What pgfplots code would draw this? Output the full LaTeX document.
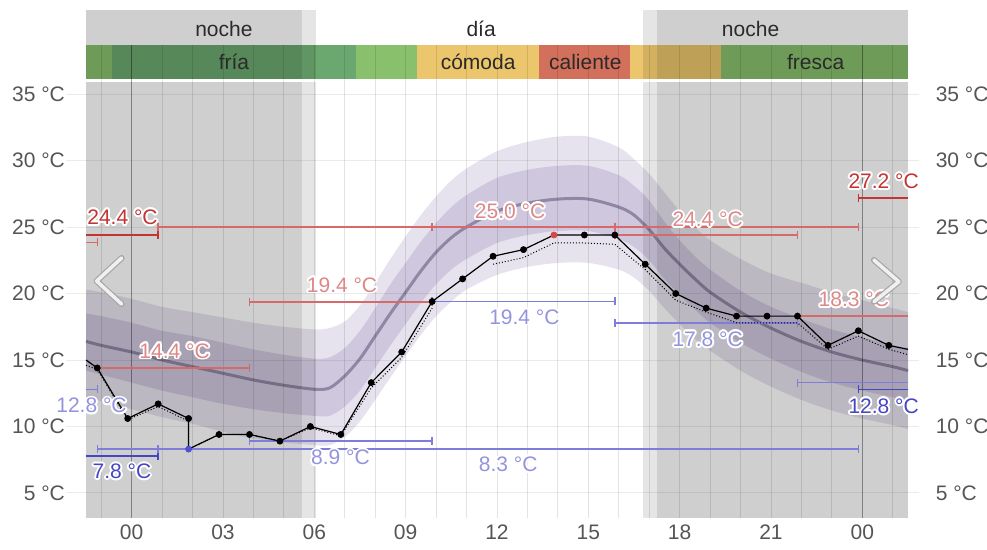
\documentclass[border=0pt]{standalone}
\usepackage{fontspec}
\setmainfont{Liberation Sans}
\usepackage{pgfplots}
\usepackage{pgfplotstable}
\pgfplotsset{compat=1.18}
\usepgfplotslibrary{fillbetween}
\usepackage[copies]{contour}
\contourlength{0.9pt}
\contournumber{16}

\definecolor{gA}{HTML}{88C06C}
\definecolor{gB}{HTML}{6AA870}
\definecolor{yC}{HTML}{ECC66C}
\definecolor{rH}{HTML}{D2705C}
\definecolor{lredl}{HTML}{D46A6A}
\definecolor{lredt}{HTML}{DE8888}
\definecolor{dred}{HTML}{C33434}
\definecolor{lbluel}{HTML}{7E7EDA}
\definecolor{lbluet}{HTML}{9494DE}
\definecolor{dblue}{HTML}{4646C4}
\definecolor{clim}{RGB}{120,100,160}
\definecolor{meanc}{HTML}{8F87A3}
\definecolor{tickgray}{HTML}{555555}
\definecolor{hdr}{HTML}{2A2A2A}
\tikzset{txt/.style={font=\fontsize{10.5}{12}\selectfont}}

\pgfplotstableread{
h     mean  ou    iu    il    ol
-1.5  16.4  20.3  18.5  14.2  12.2
-1    16.1  20.1  18.3  13.9  11.9
0     15.6  19.6  17.8  13.3  11.3
1     15.0  19.0  17.2  12.7  10.7
2     14.5  18.6  16.8  12.2  10.2
3     14.0  18.2  16.3  11.7  9.6
4     13.5  17.8  15.8  11.3  9.1
5     13.1  17.5  15.4  11.0  8.8
6     12.8  17.3  15.1  10.8  8.6
6.5   12.9  17.4  15.2  10.8  8.6
7     13.8  17.9  15.9  11.5  9.2
7.5   15.1  19.1  17.2  12.7  10.4
8     16.8  20.8  18.9  14.4  12.0
8.5   18.5  22.6  20.7  16.1  13.7
9     20.1  24.3  22.3  17.7  15.3
9.5   21.7  25.9  23.9  19.3  16.9
10    23.1  27.3  25.3  20.7  18.3
10.5  24.2  28.5  26.5  21.8  19.4
11    25.0  29.4  27.4  22.6  20.3
12    26.2  30.7  28.7  23.8  21.4
13    26.8  31.4  29.3  24.4  22.0
14    27.1  31.8  29.6  24.7  22.3
15    27.1  31.8  29.6  24.7  22.3
16    26.5  31.0  28.9  24.1  21.8
16.5  25.9  30.1  28.1  23.5  21.2
17    24.8  29.0  27.0  22.5  20.2
17.5  23.4  27.6  25.4  21.1  18.9
18    22.2  26.2  24.0  19.9  17.7
18.5  21.1  25.0  22.8  18.8  16.6
19    20.1  24.0  21.8  17.8  15.7
20    18.6  22.6  20.2  16.3  14.2
21    17.4  21.5  19.0  15.1  13.0
22    16.4  20.8  18.1  14.1  12.0
23    15.6  20.1  17.3  13.3  11.2
24    15.0  19.5  16.7  12.7  10.6
25    14.5  18.9  16.1  12.2  10.1
25.5  14.2  18.6  15.9  11.9  9.8
}\climtab

\pgfplotstableread{
h      t
-1.5   15.0
-1.13  14.4
-0.13  10.6
0.87   11.7
1.87   10.6
1.87   8.3
2.87   9.4
3.87   9.4
4.87   8.9
5.87   10.0
6.87   9.4
7.87   13.3
8.87   15.6
9.87   19.4
10.87  21.1
11.87  22.8
12.87  23.3
13.87  24.4
14.87  24.4
15.87  24.4
16.87  22.2
17.87  20.0
18.87  18.9
19.87  18.3
20.87  18.3
21.87  18.3
22.87  16.1
23.87  17.2
24.87  16.1
25.5   15.8
}\obstab

\pgfplotstableread{
h      t
-1.5   14.6
-1.13  14.3
-0.13  10.5
0.87   11.5
1.87   10.4
1.87   8.3
2.87   9.4
3.87   9.4
4.87   8.9
5.87   9.9
6.87   9.3
7.87   12.9
8.87   15.2
9.87   18.9
10.87  nan
11.87  22.2
12.87  22.7
13.87  23.8
14.87  23.8
15.87  23.7
16.87  21.8
17.87  19.5
18.87  18.6
19.87  17.8
20.87  17.8
21.87  17.8
22.87  15.8
23.87  16.8
24.87  15.8
25.5   15.4
}\dottab

\begin{document}
\begin{tikzpicture}
\begin{axis}[
  at={(43pt,16pt)}, anchor=south west, scale only axis,
  width=411pt, height=254pt,
  xmin=-1.5, xmax=25.5, ymin=3.12, ymax=41.32,
  clip=false,
  axis line style={draw=none}, tick style={draw=none},
  xtick={0,3,...,24}, xticklabels={00,03,06,09,12,15,18,21,00},
  ytick={5,10,...,35},
  yticklabel={\pgfmathprintnumber{\tick}~°C},
  /pgf/number format/assume math mode=true,
  ticklabel style={font=\fontsize{10.5}{12}\selectfont, text=tickgray},
  yticklabel style={xshift=-7pt},
  rl/.style={line width=0.75pt, mark=|, mark size=2pt, mark options={solid, line width=0.75pt}},
]
% colour band
\fill[gA] (-1.5,36.1) rectangle (-0.63,38.68);
\fill[gB] (-0.63,36.1) rectangle (7.37,38.68);
\fill[gA] (7.37,36.1) rectangle (9.37,38.68);
\fill[yC] (9.37,36.1) rectangle (13.37,38.68);
\fill[rH] (13.37,36.1) rectangle (16.37,38.68);
\fill[yC] (16.37,36.1) rectangle (19.37,38.68);
\fill[gA] (19.37,36.1) rectangle (25.5,38.68);

% climate bands
\addplot[name path=ou, draw=none, smooth] table[x=h,y=ou]{\climtab};
\addplot[name path=ol, draw=none, smooth] table[x=h,y=ol]{\climtab};
\addplot[name path=iu, draw=none, smooth] table[x=h,y=iu]{\climtab};
\addplot[name path=il, draw=none, smooth] table[x=h,y=il]{\climtab};
\addplot[fill=clim, fill opacity=0.18, draw=none] fill between[of=ou and ol];
\addplot[fill=clim, fill opacity=0.22, draw=none] fill between[of=iu and il];
\addplot[meanc, line width=1.5pt, smooth] table[x=h,y=mean]{\climtab};

% night overlays
\fill[black, opacity=0.19] (-1.5,36.1) rectangle (5.6,41.32);
\fill[black, opacity=0.10] (5.6,36.1) rectangle (6.05,41.32);
\fill[black, opacity=0.19] (-1.5,3.12) rectangle (5.6,35.9);
\fill[black, opacity=0.10] (5.6,3.12) rectangle (6.05,35.9);
\fill[black, opacity=0.10] (16.78,36.1) rectangle (17.24,41.32);
\fill[black, opacity=0.19] (17.24,36.1) rectangle (25.5,41.32);
\fill[black, opacity=0.10] (16.78,3.12) rectangle (17.24,35.9);
\fill[black, opacity=0.19] (17.24,3.12) rectangle (25.5,35.9);

% grid
\pgfplotsinvokeforeach{-1,1,2,...,23,25}{\draw[black, opacity=0.11, line width=0.5pt] (#1,3.12) -- (#1,38.68);}
\pgfplotsinvokeforeach{0,24}{\draw[black, opacity=0.38, line width=0.5pt] (#1,3.12) -- (#1,38.68);}
\pgfplotsinvokeforeach{5,10,...,35}{\draw[black, opacity=0.08, line width=0.5pt] (-2.15,#1) -- (25.85,#1);}

% max / min range lines
\addplot[color=lredl, rl, mark indices={2}] coordinates {(-1.5,23.85) (-1.13,23.85)};
\addplot[color=dred, rl, mark indices={2}] coordinates {(-1.5,24.4) (0.87,24.4)};
\addplot[color=lredl, rl] coordinates {(0.87,25.0) (23.87,25.0)};
\addplot[color=lredl, rl] coordinates {(9.87,25.0) (15.87,25.0)};
\addplot[color=lredl, rl] coordinates {(-1.13,14.4) (3.87,14.4)};
\addplot[color=lredl, rl] coordinates {(3.87,19.36) (9.87,19.36)};
\addplot[color=lredl, rl] coordinates {(15.87,24.4) (21.87,24.4)};
\addplot[color=lredl, rl, mark indices={1}] coordinates {(21.87,18.3) (25.5,18.3)};
\addplot[color=dred, rl, mark indices={1}] coordinates {(23.87,27.2) (25.5,27.2)};
\addplot[color=dblue, rl, mark indices={2}] coordinates {(-1.5,7.8) (0.87,7.8)};
\addplot[color=lbluel, rl, mark indices={2}] coordinates {(-1.5,12.8) (-1.13,12.8)};
\addplot[color=lbluel, rl] coordinates {(-1.13,8.3) (0.87,8.3)};
\addplot[color=lbluel, rl] coordinates {(0.87,8.3) (23.87,8.3)};
\addplot[color=lbluel, rl] coordinates {(3.87,8.9) (9.87,8.9)};
\addplot[color=lbluel, rl] coordinates {(9.87,19.4) (15.87,19.4)};
\addplot[color=lbluel, rl] coordinates {(15.87,17.8) (21.87,17.8)};
\addplot[color=lbluel, rl, mark indices={1}] coordinates {(21.87,13.3) (25.5,13.3)};
\addplot[color=dblue, rl, mark indices={1}] coordinates {(23.87,12.8) (25.5,12.8)};

% observations
\addplot[black, densely dotted, line width=0.5pt, unbounded coords=jump] table[x=h,y=t]{\dottab};
\addplot[black, line width=0.6pt] table[x=h,y=t]{\obstab};
\addplot[only marks, mark=*, mark size=1.5pt, black] coordinates {
(-1.13,14.4) (-0.13,10.6) (0.87,11.7) (1.87,10.6) (2.87,9.4) (3.87,9.4) (4.87,8.9)
(5.87,10.0) (6.87,9.4) (7.87,13.3) (8.87,15.6) (9.87,19.4) (10.87,21.1) (11.87,22.8)
(12.87,23.3) (14.87,24.4) (15.87,24.4) (16.87,22.2) (17.87,20.0) (18.87,18.9)
(19.87,18.3) (20.87,18.3) (21.87,18.3) (22.87,16.1) (23.87,17.2) (24.87,16.1)};
\addplot[only marks, mark=*, mark size=1.5pt, color={rgb,255:red,214;green,72;blue,72}] coordinates {(13.87,24.4)};
\addplot[only marks, mark=*, mark size=1.5pt, color={rgb,255:red,80;green,80;blue,210}] coordinates {(1.87,8.3)};

% value labels
\node[txt, text=dred]   at (-0.30,25.66) {\contour{white}{24.4 °C}};
\node[txt, text=lredt]  at (1.41,15.62) {\contour{white}{14.4 °C}};
\node[txt, text=lredt]  at (6.91,20.58) {\contour{white}{19.4 °C}};
\node[txt, text=lredt]  at (12.43,26.12) {\contour{white}{25.0 °C}};
\node[txt, text=lredt]  at (18.92,25.50) {\contour{white}{24.4 °C}};
\node[txt, text=lredt]  at (23.72,19.51) {\contour{white}{18.3 °C}};
\node[txt, text=dred]   at (24.70,28.37) {\contour{white}{27.2 °C}};
\node[txt, text=lbluet] at (-1.32,11.50) {\contour{white}{12.8 °C}};
\node[txt, text=dblue]  at (-0.32,6.55) {\contour{white}{7.8 °C}};
\node[txt, text=lbluet] at (6.86,7.60) {\contour{white}{8.9 °C}};
\node[txt, text=lbluet] at (12.37,7.09) {\contour{white}{8.3 °C}};
\node[txt, text=lbluet] at (12.90,18.16) {\contour{white}{19.4 °C}};
\node[txt, text=lbluet] at (18.92,16.50) {\contour{white}{17.8 °C}};
\node[txt, text=dblue]  at (24.70,11.46) {\contour{white}{12.8 °C}};

% navigation chevrons
\draw[line width=3pt, black!35, line cap=round, line join=round] (-0.33,22.67) -- (-1.15,20.94) -- (-0.33,19.21);
\draw[line width=1.8pt, black!6, line cap=round, line join=round] (-0.33,22.67) -- (-1.15,20.94) -- (-0.33,19.21);
\draw[line width=3pt, black!35, line cap=round, line join=round] (24.38,22.52) -- (25.2,20.89) -- (24.38,19.38);
\draw[line width=1.8pt, black!6, line cap=round, line join=round] (24.38,22.52) -- (25.2,20.89) -- (24.38,19.38);

% right tick labels
\pgfplotsinvokeforeach{5,10,...,35}{\node[anchor=west, font=\fontsize{10.5}{12}\selectfont, text=tickgray] at (26.18,#1) {#1 °C};}

% header and band texts
\node[txt, text=hdr] at (3.03,39.89) {noche};
\node[txt, text=hdr] at (11.48,39.89) {día};
\node[txt, text=hdr] at (20.33,39.89) {noche};
\node[txt, text=hdr] at (3.36,37.41) {fría};
\node[txt, text=hdr] at (11.38,37.41) {cómoda};
\node[txt, text=hdr] at (14.90,37.41) {caliente};
\node[txt, text=hdr] at (22.47,37.41) {fresca};
\end{axis}
\pgfresetboundingbox
\useasboundingbox (0,0) rectangle (493.5pt,275pt);
\end{tikzpicture}
\end{document}
